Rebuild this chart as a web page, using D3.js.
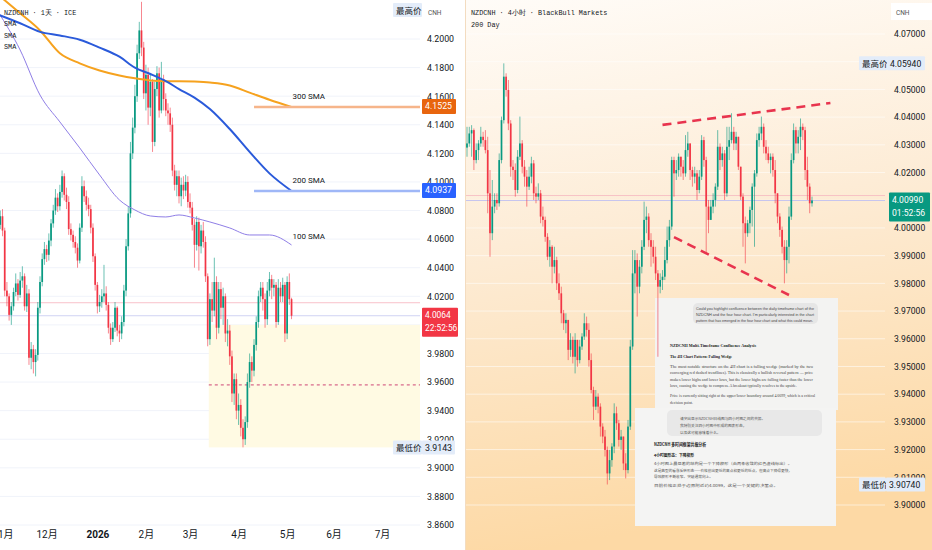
<!DOCTYPE html>
<html><head><meta charset="utf-8">
<script src="https://cdn.jsdelivr.net/npm/d3@7"></script>
<style>
body{margin:0;background:#fff}
svg{display:block}
</style>
</head><body>
<svg id="c" width="932" height="550"></svg>
<script>
// ---------- left pane: NZDCNH daily (ICE) ----------
const lOpen0 = 4.074;
const lClose = [4.070,4.076,4.066,4.024,4.020,4.007,4.013,4.023,4.029,4.021,
 4.031,4.034,4.013,4.022,3.977,3.983,3.974,3.979,4.012,4.030,
 4.046,4.053,4.049,4.059,4.071,4.080,4.089,4.083,4.093,4.104,
 4.091,4.086,4.067,4.063,4.058,4.054,4.045,4.068,4.097,4.090,
 4.084,4.081,4.068,4.048,4.028,4.013,4.016,4.020,4.022,4.014,
 3.998,3.990,3.998,4.012,3.996,3.994,4.002,4.024,4.055,4.078,
 4.120,4.138,4.160,4.190,4.206,4.194,4.162,4.175,4.152,4.170,
 4.128,4.165,4.176,4.150,4.172,4.158,4.150,4.148,4.140,4.108,
 4.098,4.104,4.090,4.098,4.094,4.100,4.086,4.082,4.070,4.056,
 4.072,4.055,4.066,4.058,4.034,3.990,4.018,4.010,4.030,3.998,
 4.025,4.012,4.020,3.994,3.996,3.978,3.952,3.962,3.940,3.944,
 3.928,3.920,3.932,3.960,3.974,3.968,3.986,4.002,4.020,4.026,
 4.018,4.004,4.024,4.032,4.026,4.028,4.002,4.026,4.020,4.028,
 3.994,4.030,4.018,4.0064];
const lHigh = [4.079,4.080,4.081,4.068,4.030,4.022,4.016,4.026,4.036,4.032,
 4.037,4.041,4.036,4.028,4.025,3.988,3.986,3.983,4.016,4.034,
 4.050,4.058,4.056,4.064,4.074,4.084,4.095,4.092,4.098,4.108,
 4.106,4.096,4.090,4.071,4.066,4.062,4.057,4.071,4.104,4.101,
 4.094,4.089,4.084,4.071,4.050,4.030,4.021,4.025,4.042,4.027,
 4.016,4.001,4.002,4.016,4.013,4.000,4.006,4.028,4.060,4.083,
 4.128,4.145,4.168,4.196,4.212,4.226,4.198,4.182,4.180,4.176,
 4.172,4.170,4.181,4.180,4.184,4.175,4.162,4.155,4.152,4.145,
 4.112,4.108,4.108,4.103,4.104,4.105,4.104,4.092,4.086,4.074,
 4.076,4.075,4.070,4.072,4.062,4.036,4.022,4.030,4.047,4.034,
 4.030,4.030,4.026,4.022,4.004,4.000,3.982,3.966,3.966,3.952,
 3.948,3.934,3.936,3.966,3.980,3.978,3.990,4.006,4.024,4.030,
 4.030,4.022,4.030,4.037,4.035,4.032,4.030,4.032,4.030,4.033,
 4.030,4.034,4.036,4.019];
const lLow = [4.066,4.067,4.062,4.020,4.013,4.003,4.000,4.010,4.020,4.017,
 4.019,4.026,4.010,4.009,3.972,3.969,3.966,3.964,3.975,4.008,
 4.027,4.042,4.044,4.045,4.055,4.068,4.077,4.079,4.080,4.089,
 4.087,4.081,4.063,4.059,4.054,4.050,4.040,4.043,4.065,4.086,
 4.080,4.076,4.064,4.044,4.024,4.008,4.009,4.012,4.016,4.010,
 3.994,3.986,3.988,3.995,3.992,3.988,3.990,3.999,4.020,4.052,
 4.075,4.116,4.134,4.156,4.186,4.188,4.158,4.150,4.140,4.146,
 4.121,4.125,4.160,4.145,4.148,4.150,4.146,4.140,4.135,4.104,
 4.094,4.090,4.085,4.083,4.088,4.090,4.082,4.078,4.066,4.040,
 4.052,4.038,4.050,4.054,4.030,3.985,3.986,4.002,4.006,3.990,
 3.994,4.004,4.000,3.988,3.985,3.972,3.946,3.944,3.934,3.930,
 3.922,3.9143,3.916,3.928,3.956,3.960,3.964,3.982,3.998,4.016,
 4.010,3.998,4.000,4.020,4.018,4.020,3.998,4.000,4.016,4.016,
 3.988,3.990,4.014,4.004];

// moving averages, read at these candle indices
const smaIdx = [0,10,19,28,37,46,55,62,69,76,82,89,96,105,114,123,133];
const sma300 = [4.231,4.218,4.206,4.190,4.183,4.178,4.1745,4.1725,4.171,4.1705,4.1705,4.1702,4.1695,4.1675,4.1625,4.1575,4.1525];
const sma200 = [4.217,4.211,4.205,4.2025,4.1995,4.194,4.1876,4.180,4.1755,4.1705,4.165,4.159,4.151,4.137,4.121,4.106,4.0937];
const sma100 = [4.219,4.1923,4.1608,4.142,4.1238,4.1049,4.0874,4.0804,4.0762,4.0755,4.0769,4.0748,4.072,4.0678,4.0629,4.0629,4.0559];
const smaNames = ["300 SMA","200 SMA","100 SMA"];

const lTicks = [3.86,3.88,3.90,3.92,3.94,3.96,3.98,4.00,4.02,4.04,4.06,4.08,4.10,4.12,4.14,4.16,4.18,4.20];
const lLast = 4.0064, lPrevLine = 4.0155, lMax = 4.226, lMin = 3.9143;
const zoneFrom = 95.5, zoneTop = 4.0000, zoneBottom = 3.9143, zoneMid = 3.958;

// ---------- right pane: NZDCNH 4h (BlackBull) ----------
const rOpen0 = 4.0290;
const rClose = [4.0305,4.0341,4.0353,4.0245,4.0281,4.0305,4.0329,4.0317,4.0281,4.0125,
 3.9981,4.0077,4.0101,4.0089,4.0245,4.0389,4.0546,4.0498,4.0377,4.0221,
 4.0209,4.0137,4.0257,4.0305,4.0221,4.0185,4.0149,4.0185,4.0233,4.0125,
 4.0113,4.0125,4.0041,4.0029,3.9968,3.9896,3.9932,3.9860,3.9884,3.9800,
 3.9764,3.9692,3.9656,3.9668,3.9560,3.9596,3.9535,3.9596,3.9523,3.9572,
 3.9608,3.9656,3.9632,3.9523,3.9415,3.9355,3.9391,3.9355,3.9283,3.9247,
 3.9199,3.9114,3.9162,3.9211,3.9331,3.9295,3.9235,3.9247,3.9150,3.9126,
 3.9283,3.9572,3.9836,3.9884,3.9788,3.9860,3.9932,4.0029,4.0041,3.9956,
 3.9932,3.9896,3.9836,3.9788,3.9812,3.9824,3.9884,3.9956,4.0005,4.0245,
 4.0197,4.0209,4.0257,4.0221,4.0197,4.0281,4.0305,4.0209,4.0185,4.0197,
 4.0137,4.0185,4.0317,4.0245,4.0077,4.0029,4.0077,4.0101,4.0149,4.0293,
 4.0245,4.0269,4.0125,4.0293,4.0317,4.0347,4.0305,4.0329,4.0221,4.0113,
 4.0017,3.9981,4.0017,4.0065,4.0149,4.0197,4.0317,4.0341,4.0365,4.0293,
 4.0269,4.0245,4.0257,4.0209,4.0125,4.0041,3.9993,3.9932,3.9884,3.9932,
 4.0041,4.0245,4.0353,4.0305,4.0329,4.0365,4.0353,4.0209,4.0149,4.0089,
 4.0099];
const rHigh = [4.0365,4.0365,4.0371,4.0359,4.0305,4.0317,4.0365,4.0347,4.0353,4.0329,
 4.0209,4.0173,4.0125,4.0125,4.0269,4.0402,4.0594,4.0558,4.0534,4.0389,
 4.0245,4.0233,4.0281,4.0402,4.0317,4.0245,4.0209,4.0221,4.0257,4.0245,
 4.0149,4.0161,4.0137,4.0077,4.0041,3.9981,3.9956,3.9938,3.9932,3.9896,
 3.9836,3.9788,3.9704,3.9692,3.9656,3.9620,3.9608,3.9620,3.9596,3.9596,
 3.9620,3.9692,3.9680,3.9656,3.9547,3.9427,3.9415,3.9403,3.9367,3.9295,
 3.9271,3.9211,3.9199,3.9223,3.9367,3.9355,3.9307,3.9271,3.9235,3.9187,
 3.9307,3.9596,3.9920,3.9920,3.9908,3.9884,3.9956,4.0095,4.0077,4.0053,
 3.9981,3.9956,3.9932,3.9848,3.9836,3.9848,3.9932,4.0005,4.0029,4.0257,
 4.0257,4.0245,4.0269,4.0257,4.0245,4.0335,4.0347,4.0305,4.0221,4.0221,
 4.0209,4.0209,4.0335,4.0329,4.0257,4.0101,4.0101,4.0125,4.0161,4.0353,
 4.0305,4.0293,4.0281,4.0365,4.0365,4.0414,4.0365,4.0347,4.0329,4.0221,
 4.0125,4.0041,4.0029,4.0077,4.0161,4.0209,4.0341,4.0365,4.0402,4.0377,
 4.0317,4.0293,4.0269,4.0269,4.0245,4.0125,4.0053,4.0005,3.9956,3.9956,
 4.0077,4.0269,4.0377,4.0365,4.0353,4.0395,4.0377,4.0365,4.0257,4.0161,
 4.0113];
const rLow = [4.0257,4.0293,4.0257,4.0209,4.0233,4.0245,4.0293,4.0293,4.0269,4.0053,
 3.9896,3.9956,4.0053,4.0065,4.0077,4.0233,4.0377,4.0474,4.0353,4.0185,
 4.0173,4.0113,4.0125,4.0245,4.0197,4.0149,4.0077,4.0137,4.0161,4.0101,
 4.0089,4.0101,4.0017,4.0005,3.9950,3.9884,3.9860,3.9800,3.9836,3.9776,
 3.9740,3.9656,3.9632,3.9620,3.9523,3.9535,3.9511,3.9475,3.9499,3.9511,
 3.9560,3.9596,3.9608,3.9499,3.9403,3.9307,3.9343,3.9331,3.9247,3.9223,
 3.9175,3.9074,3.9090,3.9138,3.9187,3.9271,3.9211,3.9199,3.9126,3.9096,
 3.9114,3.9271,3.9560,3.9764,3.9680,3.9764,3.9836,3.9920,3.9981,3.9932,
 3.9860,3.9872,3.9812,3.9535,3.9764,3.9776,3.9812,3.9872,3.9932,3.9993,
 4.0113,4.0173,4.0185,4.0185,4.0173,4.0185,4.0257,4.0173,4.0149,4.0161,
 4.0101,4.0125,4.0173,4.0221,3.9908,3.9981,4.0029,4.0053,4.0077,4.0137,
 4.0209,4.0221,4.0101,4.0113,4.0245,4.0305,4.0281,4.0281,4.0209,4.0101,
 3.9932,3.9872,3.9968,3.9981,4.0005,3.9932,4.0185,4.0293,4.0317,4.0269,
 4.0245,4.0233,4.0197,4.0185,4.0089,4.0017,3.9968,3.9908,3.9800,3.9836,
 3.9872,4.0029,4.0233,4.0269,4.0269,4.0281,4.0317,4.0173,4.0101,4.0053,
 4.0077];

const rTicks = [3.90,3.91,3.92,3.93,3.94,3.95,3.96,3.97,3.98,3.99,4.00,4.01,4.02,4.03,4.04,4.05,4.06,4.07];
const rTimeIdx = [-1,17,33,51,67,83,101,118,143,160,178];
const rTimeText = ["16","20","26","4月","7","12","17","23","5月","7","13"];
const rLast = 4.0099, rPrevLine = 4.0117, rMax = 4.0594, rMin = 3.9074;
// falling wedge trendlines [candle index, price]
const wedgeUpper = [[85,4.0372],[158,4.0451]];
const wedgeLower = [[90,3.9967],[140,3.9758]];

const UP = "#089981", DOWN = "#f23645";
const tickFont = "Roboto, 'Liberation Sans', sans-serif";
const monoFont = "'Liberation Mono', 'DejaVu Sans Mono', monospace";
const cjkFont = "'Noto Sans CJK SC', sans-serif";

const svg = d3.select("#c");
const defs = svg.append("defs");
defs.append("clipPath").attr("id","clipL").append("rect").attr("x",0).attr("y",0).attr("width",420).attr("height",526);
defs.append("clipPath").attr("id","clipR").append("rect").attr("x",466).attr("y",0).attr("width",419).attr("height",526);
defs.append("clipPath").attr("id","clipRX").append("rect").attr("x",466).attr("y",526).attr("width",419).attr("height",24);
const grad = defs.append("linearGradient").attr("id","peach").attr("x1",0).attr("y1",0).attr("x2",0.15).attr("y2",1);
grad.append("stop").attr("offset","0%").attr("stop-color","#fffcf8");
grad.append("stop").attr("offset","45%").attr("stop-color","#fdecd6");
grad.append("stop").attr("offset","100%").attr("stop-color","#fdd9a5");

function candles(g, open0, close, high, low, x, y, bw) {
  const data = close.map((c, i) => {
    const o = i ? close[i - 1] : open0;
    return {i, o, c, h: Math.max(high[i], o, c), l: Math.min(low[i], o, c)};
  });
  const col = d => d.c >= d.o ? UP : DOWN;
  g.selectAll("line.wick").data(data).join("line").attr("class","wick")
    .attr("x1", d => x(d.i)).attr("x2", d => x(d.i))
    .attr("y1", d => y(d.h)).attr("y2", d => y(d.l))
    .attr("stroke", col).attr("stroke-opacity", 0.75).attr("stroke-width", 0.8);
  g.selectAll("rect.body").data(data).join("rect").attr("class","body")
    .attr("x", d => x(d.i) - bw / 2).attr("width", bw)
    .attr("y", d => y(Math.max(d.o, d.c)))
    .attr("height", d => Math.max(0.7, Math.abs(y(d.o) - y(d.c))))
    .attr("fill", col);
}

// price tags on the axes; remember their vertical extent so covered ticks can be dropped
const tagBands = {L: [], R: []};
function tag(side, x, y, w, h, fill, lines, color, fs) {
  if (side) tagBands[side].push([y, y + h]);
  svg.append("rect").attr("x", x).attr("y", y).attr("width", w).attr("height", h).attr("fill", fill).attr("rx", 1);
  lines.forEach((t, k) => svg.append("text").attr("x", x + 3).attr("y", y + 10.5 + k * 13)
    .attr("font-family", /[\u4e00-\u9fff]/.test(t) ? cjkFont : tickFont)
    .attr("font-size", fs).attr("fill", color).text(t));
}
function dropCovered(g, scale, side) {
  g.selectAll(".tick").filter(d => tagBands[side].some(([a, b]) => scale(d) >= a && scale(d) <= b)).remove();
}

// ================= LEFT =================
svg.append("rect").attr("width", 465).attr("height", 550).attr("fill", "#ffffff");
const lDays = d3.timeDay.range(new Date(2025, 9, 30), new Date(2026, 7, 1)).filter(d => d.getDay() % 6 !== 0);
const xL = d3.scaleLinear().domain([2, 174]).range([2.5, 382]);
const yL = d3.scaleLinear().domain([3.86, 4.20]).range([525, 39]);

const gL = svg.append("g").attr("clip-path", "url(#clipL)");
gL.selectAll("line.grid").data(lTicks).join("line").attr("class","grid")
  .attr("x1", 0).attr("x2", 420).attr("y1", d => yL(d)).attr("y2", d => yL(d))
  .attr("stroke", "#f0f3fa").attr("stroke-width", 1);

// support zone
gL.append("rect").attr("x", xL(zoneFrom)).attr("width", 420 - xL(zoneFrom))
  .attr("y", yL(zoneTop)).attr("height", yL(zoneBottom) - yL(zoneTop)).attr("fill", "#fffae3");
gL.append("line").attr("x1", xL(zoneFrom)).attr("x2", 420).attr("y1", yL(zoneMid)).attr("y2", yL(zoneMid))
  .attr("stroke", "#c2185b").attr("stroke-width", 0.8).attr("stroke-dasharray", "3,3");

// price lines
gL.append("line").attr("x1", 0).attr("x2", 420).attr("y1", yL(lPrevLine)).attr("y2", yL(lPrevLine))
  .attr("stroke", "#f7b3bd").attr("stroke-width", 0.8);
gL.append("line").attr("x1", 0).attr("x2", 420).attr("y1", yL(lLast)).attr("y2", yL(lLast))
  .attr("stroke", "#c5c8f0").attr("stroke-width", 0.8);

candles(gL.append("g"), lOpen0, lClose, lHigh, lLow, xL, yL, 1.7);

// SMAs
const smaLine = vals => d3.line().curve(d3.curveMonotoneX).x((d, k) => xL(smaIdx[k])).y(d => yL(d))(vals);
const lastIdx = lClose.length - 1;
gL.append("path").attr("d", smaLine(sma100)).attr("fill", "none").attr("stroke", "#8f7ee6").attr("stroke-width", 1);
gL.append("path").attr("d", smaLine(sma300)).attr("fill", "none").attr("stroke", "#f6a21e").attr("stroke-width", 2);
gL.append("path").attr("d", smaLine(sma200)).attr("fill", "none").attr("stroke", "#2a5ada").attr("stroke-width", 2);
const smaEnds = [sma300, sma200, sma100].map(a => a[a.length - 1]);
gL.append("line").attr("x1", xL(116)).attr("x2", 420).attr("y1", yL(smaEnds[0])).attr("y2", yL(smaEnds[0]))
  .attr("stroke", "#f6b58a").attr("stroke-width", 2.5);
gL.append("line").attr("x1", xL(116)).attr("x2", 420).attr("y1", yL(smaEnds[1])).attr("y2", yL(smaEnds[1]))
  .attr("stroke", "#9fb7f7").attr("stroke-width", 2.5);
[0, 1, 2].forEach(k => gL.append("text").attr("x", xL(lastIdx) + 1).attr("y", yL(smaEnds[k]) - (k === 2 ? 6 : 8))
  .attr("font-family", tickFont).attr("font-size", 8).attr("fill", "#131722").text(smaNames[k]));

// legend
[["NZDCNH · 1天 · ICE", 15], ["SMA", 26], ["SMA", 37.5], ["SMA", 49]].forEach(([t, y]) =>
  svg.append("text").attr("x", 4).attr("y", y).attr("font-family", monoFont).attr("font-size", 6.8)
    .attr("fill", "#131722").text(t));

// left axes
const monthIdx = d3.range(1, lDays.length).filter(i => lDays[i].getMonth() !== lDays[i - 1].getMonth());
const gLX = svg.append("g").attr("transform", "translate(0,531)")
  .call(d3.axisBottom(xL).tickValues(monthIdx).tickSize(0).tickPadding(0)
    .tickFormat(i => lDays[i].getMonth() === 0 ? String(lDays[i].getFullYear()) : (lDays[i].getMonth() + 1) + "月"));
gLX.select(".domain").remove();
gLX.selectAll("text").attr("font-family", tickFont + ", " + cjkFont).attr("font-size", 10).attr("fill", "#131722")
  .attr("font-weight", (i) => lDays[i].getMonth() === 0 ? "bold" : "normal");

svg.append("rect").attr("x", 423).attr("y", 3).attr("width", 40).attr("height", 17).attr("fill", "#fff");
svg.append("text").attr("x", 428).attr("y", 15).attr("font-family", tickFont).attr("font-size", 6.5).attr("fill", "#555").text("CNH");

const gLY = svg.append("g").attr("transform", "translate(420,0)")
  .call(d3.axisRight(yL).tickValues(lTicks).tickSize(0).tickPadding(7).tickFormat(d3.format(".4f")));
gLY.select(".domain").remove();
gLY.selectAll("text").attr("font-family", tickFont).attr("font-size", 8.8).attr("fill", "#131722");

tag(null, 393, 3, 29, 14, "#e3ecf9", ["最高价"], "#131722", 8.5);
tag("L", 422, yL(smaEnds[0]) - 8, 34, 15, "#e8650e", [d3.format(".4f")(smaEnds[0])], "#fff", 8.8);
tag("L", 422, yL(smaEnds[1]) - 8, 34, 15, "#2962ff", [d3.format(".4f")(smaEnds[1])], "#fff", 8.8);
tag("L", 422, yL(lLast) - 8, 36, 29, "#f23645", [d3.format(".4f")(lLast), "22:52:56"], "#fff", 8.4);
tag(null, 393, yL(lMin) - 7, 29, 14, "#e3ecf9", ["最低价"], "#131722", 8.5);
tag("L", 422, yL(lMin) - 7, 33, 14, "#e3ecf9", [d3.format(".4f")(lMin)], "#131722", 8.8);
dropCovered(gLY, yL, "L");

// ================= RIGHT =================
svg.append("rect").attr("x", 465).attr("width", 467).attr("height", 550).attr("fill", "url(#peach)");
svg.append("line").attr("x1", 465.5).attr("x2", 465.5).attr("y1", 0).attr("y2", 550).attr("stroke", "#f3dcc0");
const xR = d3.scaleLinear().domain([0, 150]).range([467, 812]);
const yR = d3.scaleLinear().domain([3.90, 4.07]).range([505, 34]);

const gR = svg.append("g").attr("clip-path", "url(#clipR)");
gR.selectAll("line.grid").data(rTicks).join("line").attr("class","grid")
  .attr("x1", 466).attr("x2", 885).attr("y1", d => yR(d)).attr("y2", d => yR(d))
  .attr("stroke", "#ffffff").attr("stroke-opacity", 0.55);
gR.append("line").attr("x1", 466).attr("x2", 885).attr("y1", yR(rPrevLine)).attr("y2", yR(rPrevLine))
  .attr("stroke", "#f5b8c0").attr("stroke-width", 0.8);
gR.append("line").attr("x1", 466).attr("x2", 885).attr("y1", yR(rLast)).attr("y2", yR(rLast))
  .attr("stroke", "#c7c5ee").attr("stroke-width", 1);

// pasted chat panels
const pnl = gR.append("g");
pnl.append("rect").attr("x", 655).attr("y", 298).attr("width", 183).attr("height", 112).attr("fill", "#f3f3f2");
pnl.append("rect").attr("x", 693).attr("y", 303).attr("width", 125).attr("height", 21).attr("rx", 5).attr("fill", "#e6e6e6");
pnl.append("rect").attr("x", 635).attr("y", 408).attr("width", 201).attr("height", 118).attr("fill", "#f4f4f3");
pnl.append("rect").attr("x", 667).attr("y", 410).attr("width", 155).attr("height", 26).attr("rx", 5).attr("fill", "#e8e8e8");

const enBubble = ["Could you highlight confluence between the daily timeframe chart of the",
  "NZDCNH and the four hour chart. I'm particularly interested in the chart",
  "pattern that has emerged in the four hour chart and what this could mean."];
const enBody = ["The most notable structure on the 4H chart is a falling wedge (marked by the two",
  "converging red dashed trendlines). This is classically a bullish reversal pattern — price",
  "makes lower highs and lower lows, but the lower highs are falling faster than the lower",
  "lows, causing the wedge to compress. A breakout typically resolves to the upside."];
const enTail = ["Price is currently sitting right at the upper/lower boundary around 4.0099, which is a critical",
  "decision point."];
const zhBubble = ["请突出显示NZDCNH日线图与四小时图之间的共振。",
  "我特别关注四小时图中形成的图表形态，",
  "以及这可能意味着什么。"];
const zhBody = ["4小时图上最显著的结构是一个下降楔形（由两条收敛的红色虚线标出）。",
  "这是典型的看涨反转形态——价格创出更低的高点和更低的低点，但高点下降得更快，",
  "导致楔形不断收窄。突破通常向上。"];
const zhTail = ["目前价格正处于边界附近约4.0099，这是一个关键的决策点。"];

function para(lines, x, y0, dy, fs, fam, wt, color, len) {
  lines.forEach((t, k) => {
    const tx = pnl.append("text").attr("x", x).attr("y", y0 + k * dy).attr("font-family", fam)
      .attr("font-size", fs).attr("font-weight", wt).attr("fill", color).text(t);
    if (len && (k < lines.length - 1 || lines.length === 1)) tx.attr("textLength", len).attr("lengthAdjust", "spacingAndGlyphs");
  });
}
const serif = "'Liberation Serif', 'DejaVu Serif', serif";
para(enBubble, 696, 309.5, 6, 3.6, "'Liberation Sans', sans-serif", "normal", "#444", 118);
para(["NZDCNH Multi-Timeframe Confluence Analysis"], 670, 346.5, 0, 4.6, serif, "bold", "#222", 86);
para(["The 4H Chart Pattern: Falling Wedge"], 670, 357.5, 0, 4.2, serif, "bold", "#222", 62);
para(enBody, 670, 367.5, 6.5, 3.9, serif, "normal", "#444", 143);
para(enTail, 670, 397, 6.5, 3.9, serif, "normal", "#444", 145);
para(zhBubble, 680, 419.5, 7, 3.7, cjkFont, "normal", "#555", null);
para(["NZDCNH 多时间框架共振分析"], 654, 445.5, 0, 4.4, cjkFont, "bold", "#222", 52);
para(["4小时图形态：下降楔形"], 654, 456.5, 0, 4, cjkFont, "bold", "#222", 40);
para(zhBody, 654, 465, 6.5, 3.7, cjkFont, "normal", "#555", 138);
para(zhTail, 654, 487, 6.5, 3.7, cjkFont, "normal", "#555", 124);

candles(gR.append("g"), rOpen0, rClose, rHigh, rLow, xR, yR, 1.7);

// wedge trendlines
[wedgeUpper, wedgeLower].forEach(w => gR.append("line")
  .attr("x1", xR(w[0][0])).attr("y1", yR(w[0][1])).attr("x2", xR(w[1][0])).attr("y2", yR(w[1][1]))
  .attr("stroke", "#e8344e").attr("stroke-width", 2.6).attr("stroke-dasharray", "9,6"));

// legend
[["NZDCNH · 4小时 · BlackBull Markets", 15], ["200 Day", 26.5]].forEach(([t, y]) =>
  svg.append("text").attr("x", 471).attr("y", y).attr("font-family", monoFont).attr("font-size", 6.8)
    .attr("fill", "#131722").text(t));

// right axes
const gRX = svg.append("g").attr("transform", "translate(0,531)").attr("clip-path", "url(#clipRX)")
  .call(d3.axisBottom(xR).tickValues(rTimeIdx).tickSize(0).tickPadding(0).tickFormat((d, k) => rTimeText[k]));
gRX.select(".domain").remove();
gRX.selectAll("text").attr("font-family", tickFont + ", " + cjkFont).attr("font-size", 10).attr("fill", "#131722")
  .attr("font-weight", (d, k) => /月/.test(rTimeText[k]) ? "bold" : "normal");

svg.append("rect").attr("x", 891).attr("y", 3).attr("width", 41).attr("height", 17).attr("fill", "#fff");
svg.append("text").attr("x", 896).attr("y", 15).attr("font-family", tickFont).attr("font-size", 6.5).attr("fill", "#555").text("CNH");

const gRY = svg.append("g").attr("transform", "translate(885,0)")
  .call(d3.axisRight(yR).tickValues(rTicks).tickSize(0).tickPadding(9).tickFormat(d3.format(".5f")));
gRY.select(".domain").remove();
gRY.selectAll("text").attr("font-family", tickFont).attr("font-size", 8.6).attr("fill", "#131722");

tag(null, 859, yR(rMax) - 7, 28, 14, "#e3ecf9", ["最高价"], "#131722", 8.5);
tag("R", 887, yR(rMax) - 7, 38, 14, "#e3ecf9", [d3.format(".5f")(rMax)], "#131722", 8.6);
tag("R", 889, yR(rLast) - 8, 41, 29, UP, [d3.format(".5f")(rLast), "01:52:56"], "#fff", 8.6);
tag(null, 859, yR(rMin) - 7, 27, 14, "#e3ecf9", ["最低价"], "#131722", 8.5);
tag("R", 886, yR(rMin) - 7, 39, 14, "#e3ecf9", [d3.format(".5f")(rMin)], "#131722", 8.6);
dropCovered(gRY, yR, "R");
</script>
</body></html>
